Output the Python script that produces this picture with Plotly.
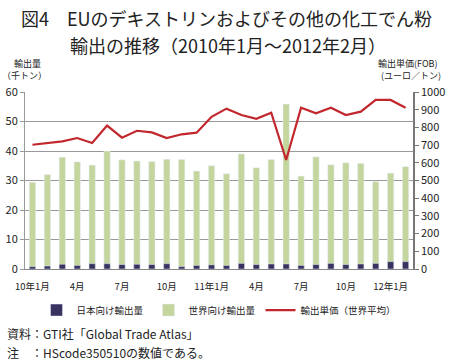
import plotly.graph_objects as go

months = list(range(26))
tick_pos = [0, 3, 6, 9, 12, 15, 18, 21, 24]
tick_labels = ["10年1月", "4月", "7月", "10月", "11年1月", "4月", "7月", "10月", "12年1月"]

japan = [0.8, 1.0, 1.6, 1.2, 1.8, 1.8, 1.5, 1.6, 1.5, 1.8, 0.8, 1.2, 1.4,
         1.2, 1.9, 1.5, 1.7, 1.7, 1.2, 1.5, 1.9, 1.5, 1.7, 1.9, 2.5, 2.5]
world = [29.4, 32.0, 37.9, 36.3, 35.2, 40.0, 37.0, 36.6, 36.4, 37.2, 37.1, 33.2, 35.0,
         32.3, 39.0, 34.3, 37.1, 55.9, 31.5, 38.0, 35.3, 36.0, 35.8, 29.6, 32.5, 34.7]
price = [702, 712, 721, 740, 712, 810, 742, 781, 772, 740, 761, 770, 860,
         906, 870, 849, 883, 616, 911, 880, 911, 870, 889, 955, 955, 911]

NAVY = "#37325F"
GREEN = "#C4D69E"
RED = "#C1272D"
FONT = "Noto Sans CJK JP"

fig = go.Figure()
fig.add_trace(go.Bar(x=months, y=world, name="世界向け輸出量", marker_color=GREEN,
                     width=0.42, legendrank=2))
fig.add_trace(go.Bar(x=months, y=japan, name="日本向け輸出量", marker_color=NAVY,
                     width=0.42, legendrank=1))
fig.add_trace(go.Scatter(x=months, y=price, name="輸出単価（世界平均）", mode="lines",
                         line=dict(color=RED, width=2.2), yaxis="y2", legendrank=3))

fig.update_layout(
    width=450, height=364,
    margin=dict(l=25, r=37, t=92, b=95, autoexpand=False),
    paper_bgcolor="white", plot_bgcolor="white",
    barmode="overlay",
    font=dict(family=FONT, color="#222", size=10),
    showlegend=True,
    legend=dict(orientation="h", x=0.5, xanchor="center", y=-0.15, yanchor="top",
                font=dict(size=9.5), itemwidth=30, tracegroupgap=0,
                traceorder="normal"),
    xaxis=dict(range=[-0.5, 25.5], tickmode="array", tickvals=tick_pos, ticktext=tick_labels,
               showgrid=False, showline=True, linecolor="#888", linewidth=1,
               ticks="outside", ticklen=9, tickcolor="rgba(0,0,0,0)",
               tickfont=dict(size=9.5), zeroline=False),
    yaxis=dict(range=[0, 60], dtick=10, showgrid=True, gridcolor="#999", gridwidth=1,
               showline=True, linecolor="#999", linewidth=1, ticks="outside", ticklen=4,
               tickcolor="#999", tickfont=dict(size=11), zeroline=False),
    yaxis2=dict(range=[0, 1000], dtick=100, overlaying="y", side="right", showgrid=False,
                showline=True, linecolor="#777", linewidth=1.5, ticks="outside", ticklen=4,
                tickcolor="#777", tickfont=dict(size=11), zeroline=False),
)

plot_h = 364 - 92 - 95
plot_w = 450 - 25 - 37

def px(x, y):
    return (x - 25) / plot_w, (269 - y) / plot_h

anns = [
    dict(text="図4　EUのデキストリンおよびその他の化工でん粉", x=226, y=18, size=18, anchor="center"),
    dict(text="輸出の推移（2010年1月～2012年2月）", x=228, y=45, size=18, anchor="center"),
    dict(text="輸出量", x=27, y=63, size=9, anchor="center"),
    dict(text="（千トン）", x=24, y=76, size=9, anchor="center"),
    dict(text="輸出単価(FOB)", x=408, y=63, size=9, anchor="center"),
    dict(text="(ユーロ／トン)", x=411, y=76, size=9, anchor="center"),
    dict(text="資料：GTI社「Global Trade Atlas」", x=5, y=333, size=12, anchor="left"),
    dict(text="注　：HScode350510の数値である。", x=5, y=352, size=12, anchor="left"),
]
for a in anns:
    ax, ay = px(a["x"], a["y"])
    fig.add_annotation(text=a["text"], xref="paper", yref="paper", x=ax, y=ay,
                       xanchor=a["anchor"], yanchor="middle", showarrow=False,
                       font=dict(size=a["size"], family=FONT, color="#222"))

fig.write_html("out.html", config={"displayModeBar": False},
               post_script="document.body.style.margin='0';document.body.style.overflow='hidden';")
